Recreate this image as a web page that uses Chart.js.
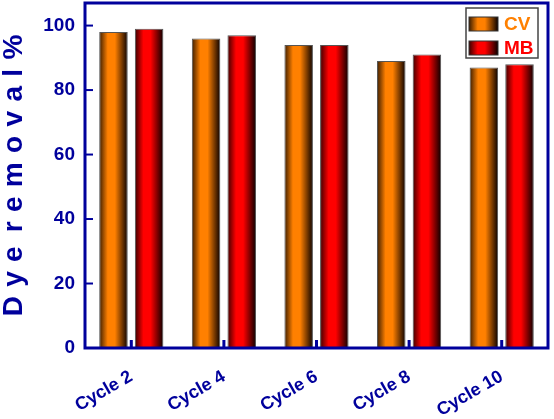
<!DOCTYPE html>
<html>
<head>
<meta charset="utf-8">
<script src="https://cdn.jsdelivr.net/npm/chart.js@4"></script>
<style>
  html, body { margin: 0; padding: 0; background: #fff; }
  #wrap { width: 554px; height: 419px; }
</style>
</head>
<body>
<div id="wrap"><canvas id="chart" width="554" height="419"></canvas></div>
<script>
// data
const cycles = ['Cycle 2', 'Cycle 4', 'Cycle 6', 'Cycle 8', 'Cycle 10'];
const cvRemoval = [98, 96, 94, 89, 87];
const mbRemoval = [99, 97, 94, 91, 88];
const yTicks = [0, 20, 40, 60, 80, 100];

const BLUE = '#00009c';
const FONT = "'Liberation Sans', Arial, sans-serif";

// cylinder-like shading, dark edges and bright middle
function barGradient(ctx, x0, x1, color, dark) {
  const g = ctx.createLinearGradient(x0, 0, x1, 0);
  g.addColorStop(0, dark);
  g.addColorStop(0.3, color);
  g.addColorStop(0.55, color);
  g.addColorStop(1, '#0a0000');
  return g;
}

const shadePlugin = {
  id: 'shade',
  beforeDatasetsDraw(chart) {
    const ctx = chart.ctx;
    chart.data.datasets.forEach((ds, i) => {
      chart.getDatasetMeta(i).data.forEach(el => {
        const g = barGradient(ctx, el.x - el.width / 2, el.x + el.width / 2, ds.baseColor, ds.darkColor);
        el.options = Object.assign({}, el.options, { backgroundColor: g });
      });
    });
  }
};

const framePlugin = {
  id: 'frame',
  afterDatasetsDraw(chart) {
    const { ctx, chartArea: a, scales } = chart;
    ctx.save();
    ctx.strokeStyle = BLUE;
    ctx.lineWidth = 3;
    ctx.strokeRect(a.left, a.top, a.right - a.left, a.bottom - a.top);

    // inward ticks
    ctx.lineWidth = 2;
    yTicks.forEach(v => {
      const y = scales.y.getPixelForValue(v);
      ctx.beginPath();
      ctx.moveTo(a.left, y);
      ctx.lineTo(a.left + 8, y);
      ctx.stroke();
    });
    ctx.lineWidth = 3;
    cycles.forEach((c, i) => {
      const x = scales.x.getPixelForValue(i);
      ctx.beginPath();
      ctx.moveTo(x, a.bottom);
      ctx.lineTo(x, a.bottom - 8);
      ctx.stroke();
    });

    // legend box inside the plot
    const bx = 466, by = 8, bw = 72, bh = 50;
    ctx.lineWidth = 1.5;
    ctx.strokeStyle = '#444';
    ctx.strokeRect(bx, by, bw, bh);
    ctx.font = 'bold 19px ' + FONT;
    ctx.textBaseline = 'middle';
    chart.data.datasets.forEach((ds, i) => {
      const sy = by + 9 + i * 24;
      ctx.fillStyle = barGradient(ctx, bx + 3, bx + 32, ds.baseColor, ds.darkColor);
      ctx.fillRect(bx + 3, sy, 29, 14);
      ctx.lineWidth = 1;
      ctx.strokeStyle = '#333';
      ctx.strokeRect(bx + 3, sy, 29, 14);
      ctx.fillStyle = ds.baseColor;
      ctx.fillText(ds.label, bx + 38, sy + 7.5);
    });
    ctx.restore();
  }
};

new Chart(document.getElementById('chart'), {
  type: 'bar',
  data: {
    labels: cycles,
    datasets: [
      {
        label: 'CV',
        data: cvRemoval,
        baseColor: '#ff8000',
        darkColor: '#3a1c00',
        backgroundColor: '#ff8000',
        borderColor: '#555',
        borderWidth: 1,
        categoryPercentage: 0.77,
        barPercentage: 0.8,
      },
      {
        label: 'MB',
        data: mbRemoval,
        baseColor: '#ff0000',
        darkColor: '#3a0000',
        backgroundColor: '#ff0000',
        borderColor: '#555',
        borderWidth: 1,
        categoryPercentage: 0.77,
        barPercentage: 0.8,
      },
    ],
  },
  options: {
    responsive: false,
    animation: false,
    layout: { padding: { top: 3, right: 6, left: 0, bottom: 0 } },
    plugins: {
      legend: { display: false },
      tooltip: { enabled: false },
    },
    scales: {
      x: {
        offset: true,
        grid: { display: false, drawTicks: false },
        border: { display: false },
        ticks: {
          color: BLUE,
          font: { family: FONT, size: 18, weight: 'bold' },
          maxRotation: 30,
          minRotation: 30,
          padding: 18,
        },
        afterFit: s => { s.height = 71; },
      },
      y: {
        min: 0,
        max: 107,
        grid: { display: false, drawTicks: false },
        border: { display: false },
        ticks: {
          stepSize: 20,
          color: BLUE,
          padding: 10,
          font: { family: FONT, size: 19, weight: 'bold' },
        },
        afterBuildTicks: s => { s.ticks = s.ticks.filter(t => yTicks.includes(t.value)); },
        title: {
          display: true,
          text: 'D\u2004y\u2004e\u2002r\u2004e\u2004m\u2004o\u2004v\u2004a\u2004l\u2004%',
          color: BLUE,
          padding: { top: 0, bottom: 0 },
          font: { family: FONT, size: 28, weight: 'bold', lineHeight: 1 },
        },
        afterFit: s => { s.width = 85; s.paddingTop = 0; s.paddingBottom = 0; },
      },
    },
  },
  plugins: [shadePlugin, framePlugin],
});
</script>
</body>
</html>
